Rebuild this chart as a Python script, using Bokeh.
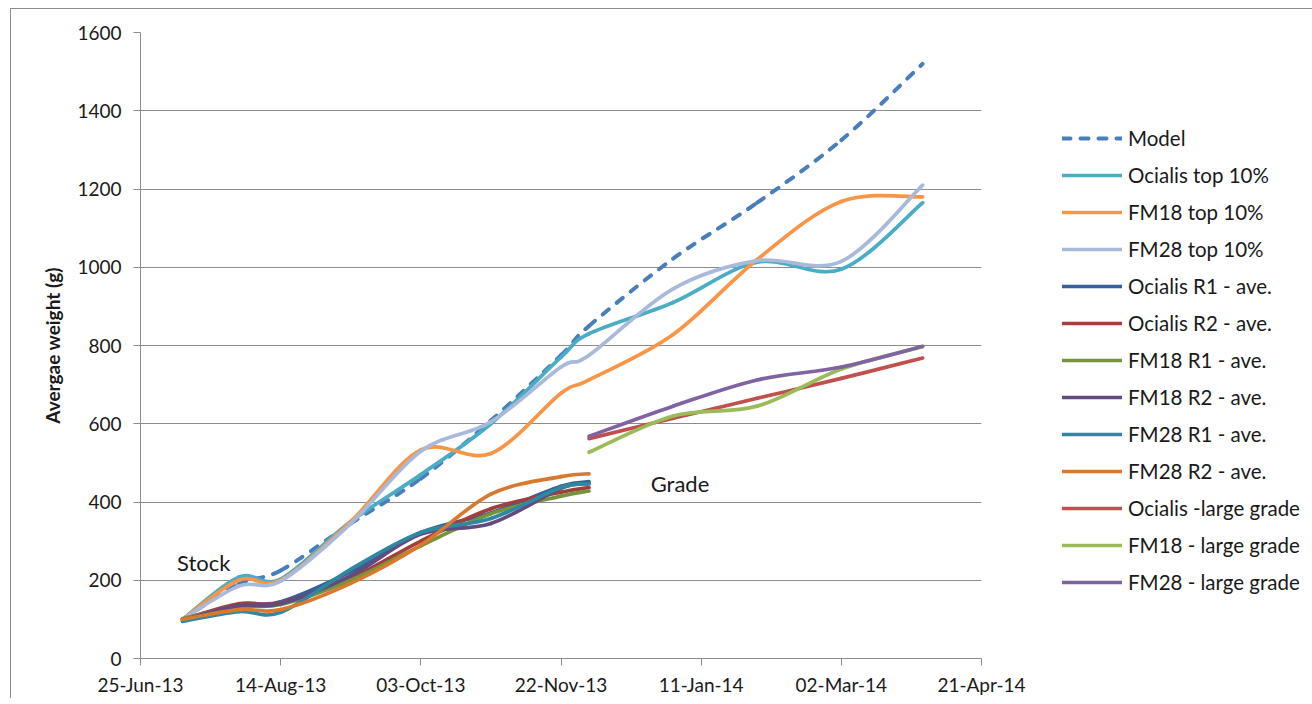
from datetime import datetime
from bokeh.plotting import figure
from bokeh.models import (Range1d, FixedTicker, DatetimeTickFormatter, Legend,
                          LegendItem, Label)
from bokeh.embed import file_html
from bokeh.resources import INLINE

# ---------------- data ----------------
TOP_DATES = ["10-Jul-13", "30-Jul-13", "14-Aug-13", "08-Sep-13", "03-Oct-13",
             "28-Oct-13", "22-Nov-13", "02-Dec-13", "01-Jan-14", "31-Jan-14",
             "02-Mar-14", "31-Mar-14"]
AVE_DATES = TOP_DATES[:8]
GRADE_DATES = ["02-Dec-13", "01-Jan-14", "31-Jan-14", "02-Mar-14", "31-Mar-14"]

model = [100, 190, 225, 345, 460, 608, 775, 850, 1022, 1165, 1325, 1520]
ocialis_top = [100, 208, 203, 350, 470, 600, 770, 830, 910, 1013, 995, 1165]
fm18_top = [100, 200, 200, 350, 533, 524, 678, 712, 828, 1020, 1168, 1180]
fm28_top = [100, 185, 198, 345, 530, 605, 745, 775, 945, 1017, 1015, 1210]

ocialis_r1 = [95, 138, 145, 222, 322, 372, 440, 452]
ocialis_r2 = [100, 140, 142, 205, 300, 383, 425, 437]
fm18_r1 = [102, 132, 138, 200, 288, 370, 415, 428]
fm18_r2 = [98, 135, 140, 212, 318, 345, 435, 447]
fm28_r1 = [95, 120, 118, 228, 322, 358, 437, 446]
fm28_r2 = [100, 125, 125, 192, 290, 420, 465, 472]

ocialis_grade = [562, 614, 665, 716, 768]
fm18_grade = [527, 620, 645, 740, 797]
fm28_grade = [568, 645, 712, 745, 798]

X_TICKS = ["25-Jun-13", "14-Aug-13", "03-Oct-13", "22-Nov-13", "11-Jan-14",
           "02-Mar-14", "21-Apr-14"]
Y_TICKS = [0, 200, 400, 600, 800, 1000, 1200, 1400, 1600]

ANNOTATIONS = [("Stock", "08-Jul-13", 245), ("Grade", "24-Dec-13", 447)]

SERIES = [
    ("Model", TOP_DATES, model, "#4A7EBB", "dash"),
    ("Ocialis top 10%", TOP_DATES, ocialis_top, "#4BACC6", None),
    ("FM18 top 10%", TOP_DATES, fm18_top, "#F79646", None),
    ("FM28 top 10%", TOP_DATES, fm28_top, "#A8B9DA", None),
    ("Ocialis R1 - ave.", AVE_DATES, ocialis_r1, "#37609A", None),
    ("Ocialis R2 - ave.", AVE_DATES, ocialis_r2, "#A23F3C", None),
    ("FM18 R1 - ave.", AVE_DATES, fm18_r1, "#77933C", None),
    ("FM18 R2 - ave.", AVE_DATES, fm18_r2, "#614B7F", None),
    ("FM28 R1 - ave.", AVE_DATES, fm28_r1, "#2F88A0", None),
    ("FM28 R2 - ave.", AVE_DATES, fm28_r2, "#D9792E", None),
    ("Ocialis -large grade", GRADE_DATES, ocialis_grade, "#C0504D", None),
    ("FM18 - large grade", GRADE_DATES, fm18_grade, "#9BBB59", None),
    ("FM28 - large grade", GRADE_DATES, fm28_grade, "#8064A2", None),
]

EPOCH = datetime(1970, 1, 1)


def ms(s):
    return (datetime.strptime(s, "%d-%b-%y") - EPOCH).total_seconds() * 1000.0


def smooth_segments(xs, ys):
    """Bezier control points for a smoothed line through the data points."""
    P = list(zip(xs, ys))
    n = len(P)
    out = {k: [] for k in ("x0", "y0", "x1", "y1", "cx0", "cy0", "cx1", "cy1")}
    for i in range(n - 1):
        p0 = P[i - 1] if i > 0 else P[i]
        p1, p2 = P[i], P[i + 1]
        p3 = P[i + 2] if i + 2 < n else P[i + 1]
        out["x0"].append(p1[0]); out["y0"].append(p1[1])
        out["x1"].append(p2[0]); out["y1"].append(p2[1])
        out["cx0"].append(p1[0] + (p2[0] - p0[0]) / 6.0)
        out["cy0"].append(p1[1] + (p2[1] - p0[1]) / 6.0)
        out["cx1"].append(p2[0] - (p3[0] - p1[0]) / 6.0)
        out["cy1"].append(p2[1] - (p3[1] - p1[1]) / 6.0)
    return out


FONT = "Lato"
TEXT = "#1a1a1a"
GRAY = "#8C8C8C"

p = figure(frame_width=841, frame_height=626, output_backend="svg",
           toolbar_location=None, x_axis_type="datetime",
           x_range=Range1d(ms(X_TICKS[0]), ms(X_TICKS[-1])),
           y_range=Range1d(Y_TICKS[0], Y_TICKS[-1]),
           min_border_left=129, min_border_right=0,
           min_border_top=23, min_border_bottom=40)
p.styles = {"margin-left": "10px", "margin-top": "8px",
            "border-left": "1px solid #8C8C8C", "border-top": "1px solid #8C8C8C"}
p.outline_line_color = None
p.background_fill_color = "white"
p.border_fill_color = "white"

p.xgrid.visible = False
p.ygrid.grid_line_color = GRAY
p.ygrid.grid_line_width = 1

p.xaxis.ticker = FixedTicker(ticks=[ms(s) for s in X_TICKS])
p.xaxis.formatter = DatetimeTickFormatter(days="%d-%b-%y", months="%d-%b-%y",
                                          years="%d-%b-%y", hours="%d-%b-%y")
p.yaxis.ticker = FixedTicker(ticks=Y_TICKS)

for ax in (p.xaxis[0], p.yaxis[0]):
    ax.axis_line_color = GRAY
    ax.axis_line_width = 1
    ax.major_tick_line_color = GRAY
    ax.major_tick_in = 0
    ax.major_tick_out = 7
    ax.minor_tick_line_color = None
    ax.major_label_text_font = FONT
    ax.major_label_text_font_size = "19px"
    ax.major_label_text_color = TEXT

p.xaxis.major_label_standoff = 7
p.yaxis.major_label_standoff = 12
p.yaxis.axis_label = "Avergae weight (g)"
p.yaxis.axis_label_text_font = FONT
p.yaxis.axis_label_text_font_style = "bold"
p.yaxis.axis_label_text_font_size = "19px"
p.yaxis.axis_label_text_color = TEXT
p.yaxis.axis_label_standoff = 10

items = []
for name, dates, vals, color, dash in SERIES:
    xs = [ms(s) for s in dates]
    seg = smooth_segments(xs, vals)
    kw = dict(line_color=color, line_width=3.7, line_cap="round")
    if dash:
        kw.update(line_dash="8 10", line_width=4)
    r = p.bezier(x0=seg["x0"], y0=seg["y0"], x1=seg["x1"], y1=seg["y1"],
                 cx0=seg["cx0"], cy0=seg["cy0"], cx1=seg["cx1"], cy1=seg["cy1"], **kw)
    items.append(LegendItem(label=name, renderers=[r], index=0))

legend = Legend(items=items, location=(81, 64), glyph_width=60, glyph_height=20,
                label_height=20, spacing=13, padding=0, margin=0,
                border_line_color=None, background_fill_alpha=0,
                label_text_font=FONT, label_text_font_size="20.5px",
                label_text_color=TEXT, label_standoff=6)
p.add_layout(legend, "right")

for text, dt, yv in ANNOTATIONS:
    p.add_layout(Label(x=ms(dt), y=yv, text=text, text_font=FONT,
                       text_font_size="22px", text_color=TEXT,
                       text_baseline="middle", text_align="left"))

open("out.html", "w").write(file_html(p, INLINE))
